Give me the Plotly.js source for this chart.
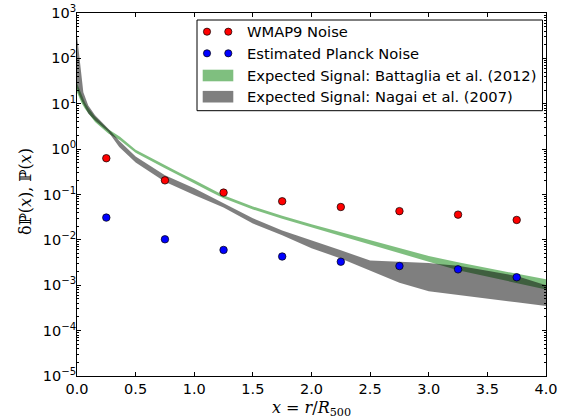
<!DOCTYPE html>
<html>
<head>
<meta charset="utf-8">
<script src="https://cdn.plot.ly/plotly-3.0.1.min.js"></script>
<style>html,body{margin:0;padding:0;background:#fff;}#chart{width:569px;height:420px;}</style>
</head>
<body>
<div id="chart"></div>
<script>
// Noise points
const binX = [0.25, 0.75, 1.25, 1.75, 2.25, 2.75, 3.25, 3.75];
const wmap9Noise = [0.63, 0.205, 0.110, 0.071, 0.053, 0.043, 0.036, 0.0275];
const planckNoise = [0.031, 0.0103, 0.0060, 0.0043, 0.0033, 0.00265, 0.00224, 0.0015];

// Battaglia et al. (2012) expected signal band
const battX    = [0, 0.04, 0.068, 0.1, 0.154, 0.267, 0.367, 0.5, 0.625, 0.75, 0.875, 1.0, 1.125, 1.25, 1.5, 1.75, 2.0, 2.25, 2.5, 2.75, 3.0, 3.25, 3.5, 3.75, 4.0];
const battHigh = [28.2, 15.3, 10.7, 7.9, 5.15, 2.73, 1.87, 0.965, 0.645, 0.440, 0.300, 0.208, 0.140, 0.0960, 0.0545, 0.0339, 0.0220, 0.0147, 0.00980, 0.00650, 0.00443, 0.00320, 0.00242, 0.00183, 0.00135];
const battLow  = [17.9, 10.2, 7.8, 5.85, 3.95, 2.2, 1.56, 0.829, 0.555, 0.378, 0.258, 0.179, 0.120, 0.0825, 0.0468, 0.0291, 0.0189, 0.0124, 0.00800, 0.00510, 0.00330, 0.00213, 0.00157, 0.00113, 0.00081];

// Nagai et al. (2007) expected signal band
const nagaiX    = [0, 0.017, 0.034, 0.054, 0.096, 0.154, 0.267, 0.36, 0.5, 0.75, 1.0, 1.25, 1.5, 1.75, 2.0, 2.25, 2.5, 2.75, 3.0, 3.1, 3.25, 3.5, 3.75, 4.0];
const nagaiHigh = [322, 117, 42, 18, 9.2, 5.6, 2.8, 1.52, 0.69, 0.265, 0.137, 0.064, 0.030, 0.016, 0.0098, 0.0059, 0.0035, 0.0033, 0.0031, 0.0029, 0.0027, 0.0021, 0.0016, 0.0010];
const nagaiLow  = [22, 16, 12.5, 9.7, 6.1, 4.3, 2.4, 1.12, 0.51, 0.19, 0.098, 0.052, 0.023, 0.0126, 0.0065, 0.0039, 0.0021, 0.00113, 0.00074, 0.00068, 0.00062, 0.00051, 0.00042, 0.00035];

// Axis ticks
const yExponents = [-5, -4, -3, -2, -1, 0, 1, 2, 3];
const xTicks = [0, 0.5, 1.0, 1.5, 2.0, 2.5, 3.0, 3.5, 4.0];

// Legend entries
const legendNames = ['WMAP9 Noise', 'Estimated Planck Noise', 'Expected Signal: Battaglia et al. (2012)', 'Expected Signal: Nagai et al. (2007)'];

function band(x, lo, hi) {
  return { x: x.concat(x.slice().reverse()), y: hi.concat(lo.slice().reverse()) };
}
const bb = band(battX, battLow, battHigh);
const nb = band(nagaiX, nagaiLow, nagaiHigh);

const GREEN = 'rgba(0,128,0,0.5)';
const GRAY = 'rgba(0,0,0,0.5)';

const traces = [
  { x: bb.x, y: bb.y, type: 'scatter', mode: 'lines', fill: 'toself',
    fillcolor: GREEN, line: { width: 0, color: 'rgba(0,0,0,0)' },
    name: legendNames[2], showlegend: false, hoverinfo: 'skip' },
  { x: nb.x, y: nb.y, type: 'scatter', mode: 'lines', fill: 'toself',
    fillcolor: GRAY, line: { width: 0, color: 'rgba(0,0,0,0)' },
    name: legendNames[3], showlegend: false, hoverinfo: 'skip' },
  { x: binX, y: wmap9Noise, type: 'scatter', mode: 'markers', name: legendNames[0], showlegend: false,
    marker: { color: '#ff0000', size: 7.5, line: { color: '#000', width: 0.7 } } },
  { x: binX, y: planckNoise, type: 'scatter', mode: 'markers', name: legendNames[1], showlegend: false,
    marker: { color: '#0000ff', size: 7.5, line: { color: '#000', width: 0.7 } } }
];

// Manual legend (matplotlib style) in pixel geometry
const W = 569, H = 420, ML = 77, MR = 23, MT = 13, MB = 44;
const PW = W - ML - MR, PH = H - MT - MB;
const px = v => (v - ML) / PW;
const py = v => (H - MB - v) / PH;

const rowY = [31.7, 53.3, 75.5, 96.7];
const shapes = [
  { type: 'rect', xref: 'paper', yref: 'paper', x0: px(197), x1: px(542.5), y0: py(110.7), y1: py(20),
    line: { color: '#000', width: 1 }, fillcolor: '#fff', layer: 'above' }
];
const markerColors = ['#ff0000', '#0000ff'];
for (let i = 0; i < 2; i++) {
  [207, 228.3].forEach(cx => {
    shapes.push({ type: 'circle', xref: 'paper', yref: 'paper', xsizemode: 'pixel', ysizemode: 'pixel',
      xanchor: px(cx), yanchor: py(rowY[i]), x0: -3.6, x1: 3.6, y0: -3.6, y1: 3.6,
      fillcolor: markerColors[i], line: { color: '#000', width: 0.7 }, layer: 'above' });
  });
}
[GREEN, GRAY].forEach((c, k) => {
  const yc = rowY[2 + k];
  shapes.push({ type: 'rect', xref: 'paper', yref: 'paper', x0: px(202.7), x1: px(233.3),
    y0: py(yc + 5.8), y1: py(yc - 5.8), fillcolor: c, line: { width: 0 }, layer: 'above' });
});
const annotations = legendNames.map((t, i) => ({
  text: t, xref: 'paper', yref: 'paper', x: px(245), y: py(rowY[i]), xanchor: 'left', yanchor: 'middle',
  showarrow: false, font: { family: 'DejaVu Sans', size: 14.7, color: '#000' }
}));
// y-axis title placed like matplotlib's ylabel
annotations.push({
  text: 'δℙ(<i>x</i>), ℙ(<i>x</i>)', xref: 'paper', yref: 'paper', x: px(25), y: py(192),
  xanchor: 'center', yanchor: 'middle', textangle: -90, showarrow: false,
  font: { family: 'DejaVu Serif', size: 16, color: '#000' }
});

const layout = {
  width: W, height: H,
  margin: { l: ML, r: MR, t: MT, b: MB },
  paper_bgcolor: '#fff', plot_bgcolor: '#fff',
  font: { family: 'DejaVu Sans', size: 14, color: '#000' },
  showlegend: false,
  shapes: shapes,
  annotations: annotations,
  xaxis: {
    range: [0, 4], tickvals: xTicks, ticktext: xTicks.map(v => v.toFixed(1)),
    showgrid: false, zeroline: false,
    showline: true, linecolor: '#000', linewidth: 1, mirror: 'ticks',
    ticks: 'inside', ticklen: 4, tickwidth: 1, tickcolor: '#000',
    tickfont: { family: 'DejaVu Sans', size: 14.5, color: '#000' },
    title: { text: '<i>x</i> = <i>r</i>/<i>R</i><sub>500</sub>', standoff: 5,
             font: { family: 'DejaVu Serif', size: 16, color: '#000' } }
  },
  yaxis: {
    type: 'log', range: [-5, 3],
    tickvals: yExponents.map(e => Math.pow(10, e)),
    ticktext: yExponents.map(e => '10<sup>' + String(e).replace('-', '−') + '</sup>'),
    showgrid: false, zeroline: false,
    showline: true, linecolor: '#000', linewidth: 1, mirror: 'ticks',
    ticks: 'inside', ticklen: 4, tickwidth: 1, tickcolor: '#000',
    ticklabelstandoff: -3,
    minor: { ticks: 'inside', ticklen: 2, tickwidth: 1, tickcolor: '#000', dtick: 'D1', showgrid: false },
    tickfont: { family: 'DejaVu Sans', size: 14.5, color: '#000' }
  }
};

Plotly.newPlot('chart', traces, layout, { displayModeBar: false, staticPlot: true });
</script>
</body>
</html>
